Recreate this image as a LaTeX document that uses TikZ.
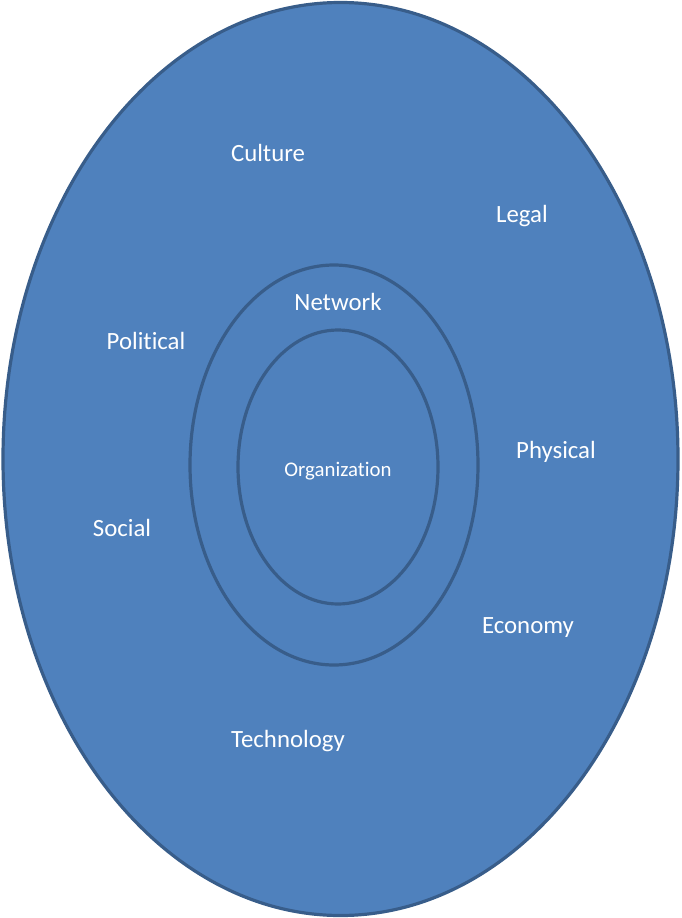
\documentclass[tikz,border=0pt]{standalone}
\usepackage{fontspec}
\setmainfont{Carlito}[RawFeature={-liga}]
\definecolor{fillblue}{HTML}{4F81BD}
\definecolor{lineblue}{HTML}{385D8A}
\begin{document}
\begin{tikzpicture}[x=1pt,y=-1pt,
  ring/.style={draw=lineblue, line width=3.2pt, fill=fillblue},
  lbl/.style={text=white, font=\fontsize{24.8}{28}\selectfont, inner sep=0pt},
  lblsmall/.style={text=white, font=\fontsize{20.8}{24}\selectfont, inner sep=0pt}]
\useasboundingbox (0,0) rectangle (681,918);
\path[ring] (340.5,459) ellipse [x radius=337.5, y radius=456.5];
\path[ring] (334,465) ellipse [x radius=144, y radius=200];
\path[ring] (338,467) ellipse [x radius=100, y radius=137];
\node[lbl] (culture) at (268,153) {Culture};
\node[lbl] (legal) at (522,216) {Legal};
\node[lbl] (network) at (338,302) {Network};
\node[lbl] (political) at (146,341) {Political};
\node[lbl] (physical) at (556,452) {Physical};
\node[lblsmall] (org) at (338,471) {Organization};
\node[lbl] (social) at (122,528) {Social};
\node[lbl] (economy) at (528,628) {Economy};
\node[lbl] (tech) at (288,741) {Technology};
\end{tikzpicture}
\end{document}
